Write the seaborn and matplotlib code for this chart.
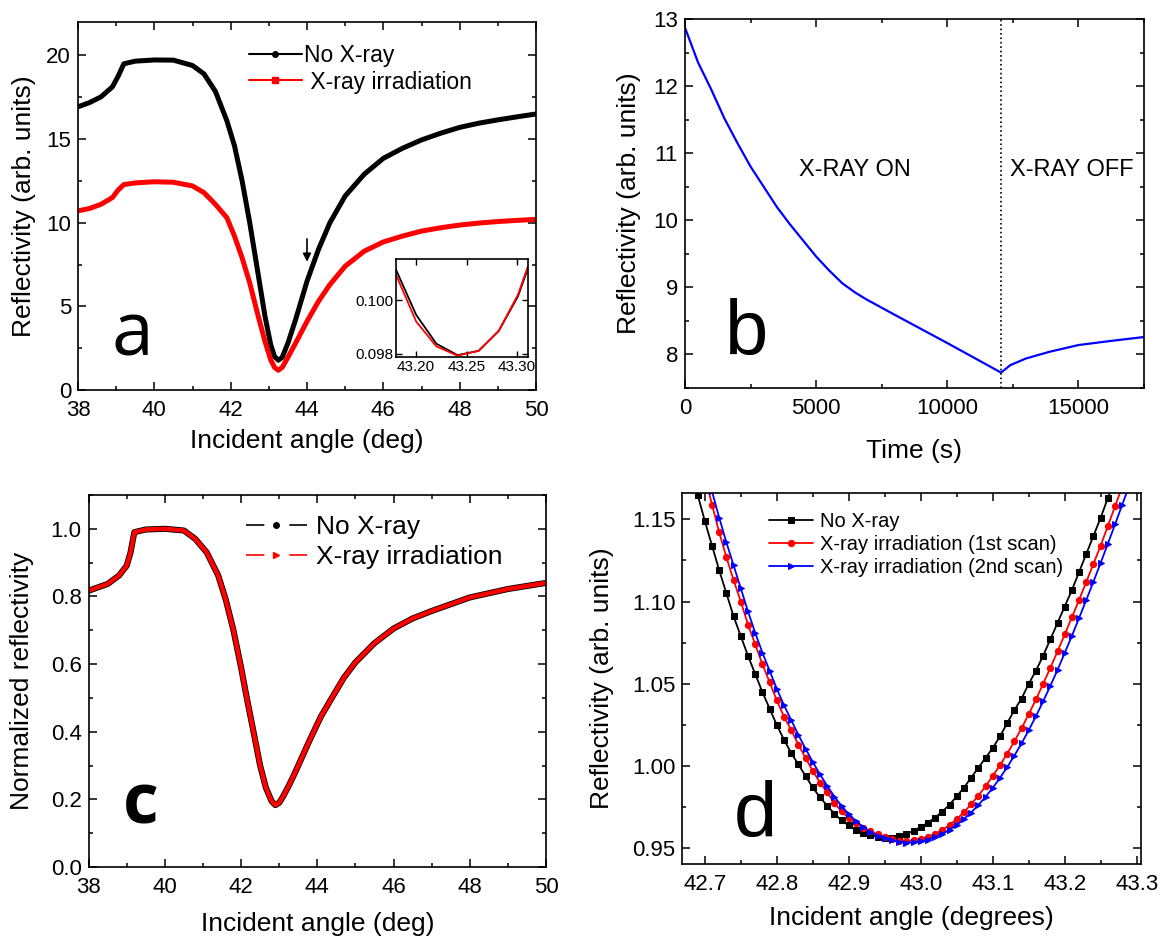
import numpy as np
import pandas as pd
import matplotlib
matplotlib.use("Agg")
import matplotlib.pyplot as plt
from matplotlib.lines import Line2D
from matplotlib.ticker import MultipleLocator, FormatStrFormatter
import seaborn as sns

# ---- panel a : SPR curves before / after X-ray ----
angle_a = [38.0, 38.3, 38.6, 38.9, 39.05, 39.2, 39.5, 40.0, 40.5, 41.0,
           41.3, 41.6, 41.9, 42.1, 42.3, 42.5, 42.7, 42.9, 43.05, 43.15,
           43.25, 43.35, 43.5, 43.7, 44.0, 44.3, 44.6, 45.0, 45.5, 46.0,
           46.5, 47.0, 47.5, 48.0, 48.5, 49.0, 49.5, 50.0]
refl_a_no_xray = [16.93, 17.18, 17.52, 18.12, 18.75, 19.5, 19.66, 19.73, 19.72, 19.4,
                  18.9, 17.85, 16.1, 14.6, 12.5, 10.0, 7.2, 4.4, 2.7, 2.0,
                  1.78, 1.95, 2.8, 4.2, 6.5, 8.4, 10.0, 11.6, 12.9, 13.85,
                  14.45, 14.95, 15.35, 15.7, 15.95, 16.15, 16.33, 16.5]
refl_a_xray = [10.71, 10.85, 11.1, 11.5, 11.95, 12.28, 12.38, 12.45, 12.42, 12.2,
               11.8, 11.1, 10.3, 9.2, 7.9, 6.4, 4.6, 2.9, 1.8, 1.35,
               1.18, 1.35, 1.95, 2.8, 4.1, 5.3, 6.3, 7.4, 8.3, 8.85,
               9.2, 9.5, 9.7, 9.86, 9.98, 10.07, 10.14, 10.2]

# inset of panel a (zoom on the minimum)
inset_angle = [43.18, 43.20, 43.22, 43.241, 43.262, 43.282, 43.301, 43.311]
inset_no_xray = [0.10115, 0.09946, 0.09838, 0.09795, 0.09811, 0.09886, 0.10015, 0.10121]
inset_xray = [0.10096, 0.09921, 0.09828, 0.09793, 0.09811, 0.09886, 0.10021, 0.10128]

# ---- panel b : reflectivity vs time ----
time_b = [0, 500, 1000, 1500, 2000, 2500, 3000, 3500, 4000, 4500,
          5000, 5500, 6000, 6500, 6920, 8000, 10000, 12050, 12400, 13000,
          13900, 15000, 16200, 17500]
refl_b = [12.87, 12.35, 11.95, 11.52, 11.15, 10.8, 10.5, 10.2, 9.94, 9.7,
          9.46, 9.25, 9.06, 8.92, 8.82, 8.59, 8.17, 7.73, 7.84, 7.94,
          8.04, 8.14, 8.2, 8.26]
xray_off_time = 12050

# ---- panel c : normalized curves (both curves overlap) ----
angle_c = [38.0, 38.5, 38.8, 39.0, 39.1, 39.2, 39.5, 40.0, 40.5, 40.8,
           41.1, 41.4, 41.6, 41.8, 42.0, 42.15, 42.3, 42.5, 42.65, 42.8,
           42.9, 43.0, 43.1, 43.25, 43.4, 43.6, 43.8, 44.1, 44.45, 44.7,
           45.0, 45.5, 46.0, 46.5, 47.0, 48.0, 49.0, 50.0]
norm_c = [0.817, 0.837, 0.862, 0.891, 0.93, 0.99, 0.998, 1.0, 0.995, 0.97,
          0.93, 0.862, 0.79, 0.70, 0.59, 0.50, 0.415, 0.30, 0.235, 0.195,
          0.183, 0.19, 0.208, 0.24, 0.275, 0.325, 0.375, 0.446, 0.513, 0.56,
          0.605, 0.662, 0.705, 0.735, 0.757, 0.797, 0.822, 0.84]

# ---- panel d : zoom on the minimum, three scans ----
nan = np.nan
angle_d = [42.68, 42.69, 42.70, 42.71, 42.72, 42.73, 42.74, 42.75, 42.76, 42.77,
           42.78, 42.79, 42.80, 42.81, 42.82, 42.83, 42.84, 42.85, 42.86, 42.87,
           42.88, 42.89, 42.90, 42.91, 42.92, 42.93, 42.94, 42.95, 42.96, 42.97,
           42.98, 42.99, 43.00, 43.01, 43.02, 43.03, 43.04, 43.05, 43.06, 43.07,
           43.08, 43.09, 43.10, 43.11, 43.12, 43.13, 43.14, 43.15, 43.16, 43.17,
           43.18, 43.19, 43.20, 43.21, 43.22, 43.23, 43.24, 43.25, 43.26, 43.27,
           43.28, 43.29]
refl_d_no_xray = [1.181, 1.165, 1.149, 1.134, 1.119, 1.105, 1.091, 1.079, 1.067, 1.056,
                  1.045, 1.035, 1.025, 1.016, 1.008, 1.001, 0.994, 0.987, 0.981, 0.976,
                  0.971, 0.967, 0.964, 0.961, 0.9595, 0.958, 0.957, 0.9562, 0.9565, 0.9575,
                  0.9588, 0.9606, 0.963, 0.9656, 0.9687, 0.9724, 0.9766, 0.9816, 0.9869, 0.993,
                  0.999, 1.005, 1.011, 1.018, 1.026, 1.034, 1.041, 1.050, 1.058, 1.067,
                  1.077, 1.087, 1.097, 1.107, 1.118, 1.129, 1.140, 1.151, 1.163, 1.175,
                  nan, nan]
refl_d_scan1 = [nan, nan, 1.176, 1.159, 1.142, 1.127, 1.113, 1.100, 1.086, 1.074,
                1.062, 1.051, 1.040, 1.030, 1.022, 1.013, 1.005, 0.997, 0.990, 0.984,
                0.9775, 0.9725, 0.9684, 0.9652, 0.9625, 0.9603, 0.9585, 0.9567, 0.9555, 0.9547,
                0.9545, 0.9549, 0.9558, 0.957, 0.9588, 0.9612, 0.9642, 0.9678, 0.972, 0.9768,
                0.982, 0.9877, 0.994, 1.0005, 1.0075, 1.015, 1.023, 1.0315, 1.0405, 1.05,
                1.0597, 1.0697, 1.08, 1.0905, 1.101, 1.112, 1.123, 1.134, 1.146, 1.158,
                1.170, nan]
refl_d_scan2 = [nan, nan, nan, 1.167, 1.151, 1.136, 1.122, 1.108, 1.094, 1.081,
                1.069, 1.058, 1.047, 1.037, 1.028, 1.019, 1.0105, 1.0025, 0.995, 0.988,
                0.9815, 0.9757, 0.9707, 0.9665, 0.963, 0.960, 0.9578, 0.956, 0.9548, 0.954,
                0.9535, 0.9536, 0.9542, 0.9553, 0.9568, 0.9588, 0.9613, 0.9643, 0.9678, 0.9718,
                0.9763, 0.9813, 0.9868, 0.9928, 0.9993, 1.0063, 1.0138, 1.0218, 1.0303, 1.0393,
                1.0487, 1.0585, 1.0687, 1.0792, 1.090, 1.101, 1.1122, 1.1236, 1.1352, 1.147,
                1.159, 1.171]

sns.set_theme(style="ticks", rc={
    "axes.edgecolor": "black", "axes.linewidth": 1.2,
    "text.color": "black", "axes.labelcolor": "black",
    "xtick.color": "black", "ytick.color": "black",
})
plt.rcParams["font.family"] = ["Liberation Sans", "DejaVu Sans"]

W, H = 1167, 939
fig = plt.figure(figsize=(W / 100, H / 100), dpi=100)


def px_axes(left, top, right, bottom):
    return fig.add_axes([left / W, 1 - bottom / H, (right - left) / W, (bottom - top) / H])


def style(ax, xmaj, xmin, ymaj, ymin, size=16):
    ax.xaxis.set_major_locator(MultipleLocator(xmaj))
    ax.xaxis.set_minor_locator(MultipleLocator(xmin))
    ax.yaxis.set_major_locator(MultipleLocator(ymaj))
    ax.yaxis.set_minor_locator(MultipleLocator(ymin))
    ax.tick_params(which="both", direction="in", top=True, right=True,
                   labelsize=size, width=1.1)
    ax.tick_params(which="major", length=6)
    ax.tick_params(which="minor", length=3)
    ax.tick_params(axis="x", pad=7)
    ax.tick_params(axis="y", pad=5)


def line(ax, x, y, color, lw, **kw):
    sns.lineplot(x=x, y=y, ax=ax, color=color, lw=lw, estimator=None, sort=False, **kw)


LBL = 19

# ---------------- panel a ----------------
ax_a = px_axes(78, 22, 536, 390)
line(ax_a, angle_a, refl_a_no_xray, "black", 3.6)
line(ax_a, angle_a, refl_a_xray, "red", 3.6)
ax_a.set_xlim(38, 50)
ax_a.set_ylim(0, 22)
style(ax_a, 2, 1, 5, 2.5)
ax_a.set_xlabel("Incident angle (deg)", fontsize=LBL)
ax_a.set_ylabel("Reflectivity (arb. units)", fontsize=LBL)
ax_a.xaxis.set_label_coords(0.5, -0.105)
ax_a.yaxis.set_label_coords(-0.092, 0.5)
h_a = [Line2D([], [], color="black", lw=1.5, marker="o", ms=4),
       Line2D([], [], color="red", lw=1.5, marker="s", ms=4)]
ax_a.legend(h_a, ["No X-ray", " X-ray irradiation"], loc="upper left",
            bbox_to_anchor=(0.373, 0.94), frameon=False, fontsize=16.5,
            handlelength=2.3, handletextpad=0.1, labelspacing=0.15,
            borderpad=0, borderaxespad=0, numpoints=1)
ax_a.annotate("", xy=(44, 7.5), xytext=(44, 9.2),
              arrowprops=dict(arrowstyle="-|>", color="black", lw=1.2, mutation_scale=12))
ax_a.text(0.074, 0.095, "a", transform=ax_a.transAxes, fontsize=54,
          family=["Open Sans", "DejaVu Sans"], ha="left", va="baseline")

# inset
ax_in = px_axes(396, 259, 528, 357)
line(ax_in, inset_angle, inset_no_xray, "black", 1.3)
line(ax_in, inset_angle, inset_xray, "red", 1.3)
ax_in.set_xlim(43.18, 43.311)
ax_in.set_ylim(0.09788, 0.10155)
ax_in.set_xticks([43.20, 43.25, 43.30])
ax_in.set_yticks([0.098, 0.100])
ax_in.xaxis.set_major_formatter(FormatStrFormatter("%.2f"))
ax_in.yaxis.set_major_formatter(FormatStrFormatter("%.3f"))
ax_in.tick_params(direction="in", top=True, right=True, labelsize=11, length=4, pad=2, width=1)
ax_in.set_xlabel("")
ax_in.set_ylabel("")

# ---------------- panel b ----------------
ax_b = px_axes(685, 19, 1144, 388)
line(ax_b, time_b, refl_b, "blue", 1.6)
ax_b.axvline(xray_off_time, color="black", ls=":", lw=1.2)
ax_b.set_xlim(0, 17500)
ax_b.set_ylim(7.5, 13)
style(ax_b, 5000, 2500, 1, 0.5)
ax_b.set_xlabel("Time (s)", fontsize=LBL)
ax_b.set_ylabel("Reflectivity (arb. units)", fontsize=LBL)
ax_b.xaxis.set_label_coords(0.5, -0.138)
ax_b.yaxis.set_label_coords(-0.096, 0.5)
ax_b.text(0.37, 0.59, "X-RAY ON", transform=ax_b.transAxes, fontsize=17,
          ha="center", va="center")
ax_b.text(0.843, 0.59, "X-RAY OFF", transform=ax_b.transAxes, fontsize=17,
          ha="center", va="center")
ax_b.text(0.086, 0.09, "b", transform=ax_b.transAxes, fontsize=56,
          ha="left", va="baseline")

# ---------------- panel c ----------------
ax_c = px_axes(88.6, 495, 546, 867)
line(ax_c, angle_c, norm_c, "black", 4.4)
line(ax_c, angle_c, norm_c, "red", 3.2)
ax_c.set_xlim(38, 50)
ax_c.set_ylim(0, 1.1)
style(ax_c, 2, 1, 0.2, 0.1)
ax_c.yaxis.set_major_formatter(FormatStrFormatter("%.1f"))
ax_c.set_xlabel("Incident angle (deg)", fontsize=LBL)
ax_c.set_ylabel("Normalized reflectivity", fontsize=LBL)
ax_c.xaxis.set_label_coords(0.5, -0.12)
ax_c.yaxis.set_label_coords(-0.119, 0.5)
h_c = [Line2D([], [], color="black", lw=1.2, ls=(0, (11, 15)), marker="o", ms=4),
       Line2D([], [], color="red", lw=1.2, ls=(0, (11, 15)), marker=">", ms=5)]
ax_c.legend(h_c, ["No X-ray", "X-ray irradiation"], loc="upper left",
            bbox_to_anchor=(0.344, 0.945), frameon=False, fontsize=19,
            handlelength=2.3, handletextpad=0.35, labelspacing=0.2,
            borderpad=0, borderaxespad=0, numpoints=1)
ax_c.text(0.075, 0.118, "c", transform=ax_c.transAxes, fontsize=50, fontweight="bold",
          family=["Open Sans", "DejaVu Sans"], ha="left", va="baseline")

# ---------------- panel d ----------------
ax_d = px_axes(682.5, 493, 1141, 864)
line(ax_d, angle_d, refl_d_no_xray, "black", 1.3, marker="s", ms=4,
     markeredgecolor="black", label="No X-ray")
line(ax_d, angle_d, refl_d_scan1, "red", 1.3, marker="o", ms=4.5,
     markeredgecolor="red", label="X-ray irradiation (1st scan)")
line(ax_d, angle_d, refl_d_scan2, "blue", 1.3, marker=">", ms=5,
     markeredgecolor="blue", label="X-ray irradiation (2nd scan)")
ax_d.set_xlim(42.669, 43.306)
ax_d.set_ylim(0.9405, 1.166)
style(ax_d, 0.1, 0.05, 0.05, 0.025)
ax_d.xaxis.set_major_formatter(FormatStrFormatter("%.1f"))
ax_d.yaxis.set_major_formatter(FormatStrFormatter("%.2f"))
ax_d.set_xlabel("Incident angle (degrees)", fontsize=LBL)
ax_d.set_ylabel("Reflectivity (arb. units)", fontsize=LBL)
ax_d.xaxis.set_label_coords(0.5, -0.113)
ax_d.yaxis.set_label_coords(-0.149, 0.5)
ax_d.legend(loc="upper left", bbox_to_anchor=(0.189, 0.948), frameon=False,
            fontsize=14.5, handlelength=2.2, handletextpad=0.3, labelspacing=0.2,
            borderpad=0, borderaxespad=0, numpoints=1)
ax_d.text(0.112, 0.073, "d", transform=ax_d.transAxes, fontsize=56,
          ha="left", va="baseline")

fig.savefig("out.png", dpi=100)
